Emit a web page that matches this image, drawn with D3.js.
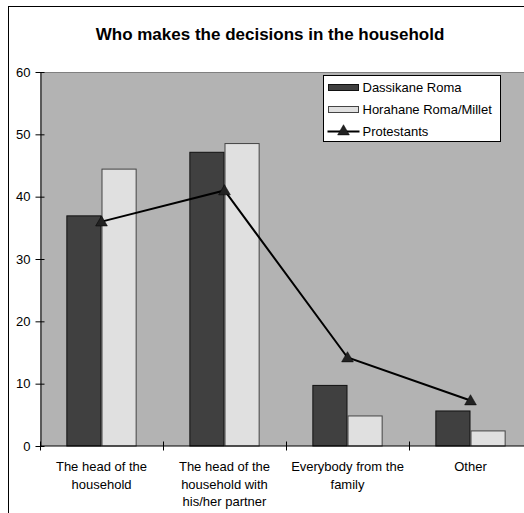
<!DOCTYPE html>
<html>
<head>
<meta charset="utf-8">
<script src="https://cdn.jsdelivr.net/npm/d3@7"></script>
<style>
  html, body { margin: 0; padding: 0; background: #fff; }
  svg { display: block; font-family: "Liberation Sans", Arial, sans-serif; }
</style>
</head>
<body>
<svg id="chart" width="524" height="513"></svg>
<script>
// Survey answers: who makes the decisions in the household (%)
const categories = [
  ["The head of the", "household"],
  ["The head of the", "household with", "his/her partner"],
  ["Everybody from the", "family"],
  ["Other"]
];
const categoryKeys = categories.map(c => c.join(" "));
const seriesNames = ["Dassikane Roma", "Horahane Roma/Millet"];
const dassikane = [37, 47.2, 9.8, 5.7];
const horahane = [44.5, 48.6, 4.9, 2.5];
const lineName = "Protestants";
const protestants = [36, 41, 14.2, 7.3];
const yTicks = [0, 10, 20, 30, 40, 50, 60];

const barColors = { "Dassikane Roma": "#404040", "Horahane Roma/Millet": "#e0e0e0" };
const barStroke = { "Dassikane Roma": "#111", "Horahane Roma/Millet": "#444" };

const svg = d3.select("#chart");
const plot = { left: 40, right: 532, top: 72, bottom: 446 };
const fs = 13;

// Chart frame
svg.append("rect")
  .attr("x", 8.5).attr("y", 6.5)
  .attr("width", 523).attr("height", 512)
  .attr("fill", "#fff").attr("stroke", "#000").attr("stroke-width", 1);

// Title
svg.append("text")
  .attr("x", 270).attr("y", 40)
  .attr("text-anchor", "middle")
  .attr("font-size", 17).attr("font-weight", "bold")
  .text("Who makes the decisions in the household");

const x = d3.scaleBand().domain(categoryKeys).range([plot.left, plot.right]);
const xInner = d3.scaleBand().domain(seriesNames).range([0, x.bandwidth()])
  .paddingInner(0).paddingOuter(0.75);
const y = d3.scaleLinear().domain([0, 60]).range([plot.bottom, plot.top]);

// Plot area
svg.append("rect")
  .attr("x", plot.left).attr("y", plot.top)
  .attr("width", plot.right - plot.left).attr("height", plot.bottom - plot.top)
  .attr("fill", "#b3b3b3");
svg.append("line")
  .attr("x1", plot.left).attr("x2", plot.right)
  .attr("y1", plot.top + 0.5).attr("y2", plot.top + 0.5)
  .attr("stroke", "#808080");

// Bars
const rows = categoryKeys.map((k, i) => ({ key: k, values: [
  { name: seriesNames[0], v: dassikane[i] },
  { name: seriesNames[1], v: horahane[i] }
]}));
const groups = svg.append("g").selectAll("g").data(rows).join("g")
  .attr("transform", d => `translate(${x(d.key)},0)`);
groups.selectAll("rect").data(d => d.values).join("rect")
  .attr("x", d => xInner(d.name) + 0.5)
  .attr("y", d => y(d.v) + 0.5)
  .attr("width", xInner.bandwidth() - 1)
  .attr("height", d => y(0) - y(d.v) - 0.5)
  .attr("fill", d => barColors[d.name])
  .attr("stroke", d => barStroke[d.name])
  .attr("stroke-width", 1);

// Y axis
const yAxis = d3.axisLeft(y).tickValues(yTicks).tickSizeInner(5).tickSizeOuter(0).tickPadding(5);
const gy = svg.append("g").attr("transform", `translate(${plot.left + 0.5},0)`).call(yAxis);
gy.select(".domain").attr("stroke", "#000");
gy.selectAll(".tick line").attr("stroke", "#000").attr("x2", 4).attr("x1", -5);
gy.selectAll(".tick text").attr("font-size", fs).attr("fill", "#000")
  .attr("font-family", "Liberation Sans, Arial, sans-serif").attr("x", -10);

// X axis
const xAxis = d3.axisBottom(x).tickSize(0).tickFormat("");
const gx = svg.append("g").attr("transform", `translate(0,${plot.bottom - 0.5})`).call(xAxis);
gx.select(".domain").attr("stroke", "#000");
gx.selectAll(".tick").remove();
// Category separators
const seps = categoryKeys.map(k => x(k));
gx.selectAll("line.sep").data(seps).join("line")
  .attr("class", "sep")
  .attr("x1", d => Math.round(d) + 0.5).attr("x2", d => Math.round(d) + 0.5)
  .attr("y1", -4).attr("y2", 5)
  .attr("stroke", "#000");

// Category labels
const labels = svg.append("g").selectAll("text").data(categories).join("text")
  .attr("x", (d, i) => x(categoryKeys[i]) + x.bandwidth() / 2)
  .attr("y", 471)
  .attr("text-anchor", "middle")
  .attr("font-size", fs)
  .attr("fill", "#000");
labels.selectAll("tspan").data(d => d).join("tspan")
  .attr("x", function () { return d3.select(this.parentNode).attr("x"); })
  .attr("dy", (d, i) => i === 0 ? 0 : 17.7)
  .text(d => d);

// Protestants line
const pts = categoryKeys.map((k, i) => [x(k) + x.bandwidth() / 2, y(protestants[i])]);
svg.append("path")
  .attr("d", d3.line()(pts))
  .attr("fill", "none").attr("stroke", "#000").attr("stroke-width", 2);
const tri = d3.symbol().type(d3.symbolTriangle).size(60);
svg.append("g").selectAll("path").data(pts).join("path")
  .attr("d", tri)
  .attr("transform", d => `translate(${d[0]},${d[1] + 1})`)
  .attr("fill", "#222").attr("stroke", "#000").attr("stroke-width", 0.5);

// Legend
const lg = svg.append("g").attr("transform", "translate(323.5,75.5)");
lg.append("rect").attr("width", 177).attr("height", 66)
  .attr("fill", "#fff").attr("stroke", "#000");
seriesNames.forEach((name, i) => {
  const cy = 12 + i * 22;
  lg.append("rect").attr("x", 5).attr("y", cy - 3).attr("width", 30).attr("height", 6)
    .attr("fill", barColors[name]).attr("stroke", barStroke[name]);
  lg.append("text").attr("x", 39).attr("y", cy + 4.5).attr("font-size", fs).text(name);
});
{
  const cy = 56;
  lg.append("line").attr("x1", 4).attr("x2", 36).attr("y1", cy).attr("y2", cy)
    .attr("stroke", "#000").attr("stroke-width", 2);
  lg.append("path").attr("d", tri).attr("transform", `translate(20,${cy})`)
    .attr("fill", "#222").attr("stroke", "#000").attr("stroke-width", 0.5);
  lg.append("text").attr("x", 39).attr("y", cy + 4.5).attr("font-size", fs).text(lineName);
}
</script>
</body>
</html>
